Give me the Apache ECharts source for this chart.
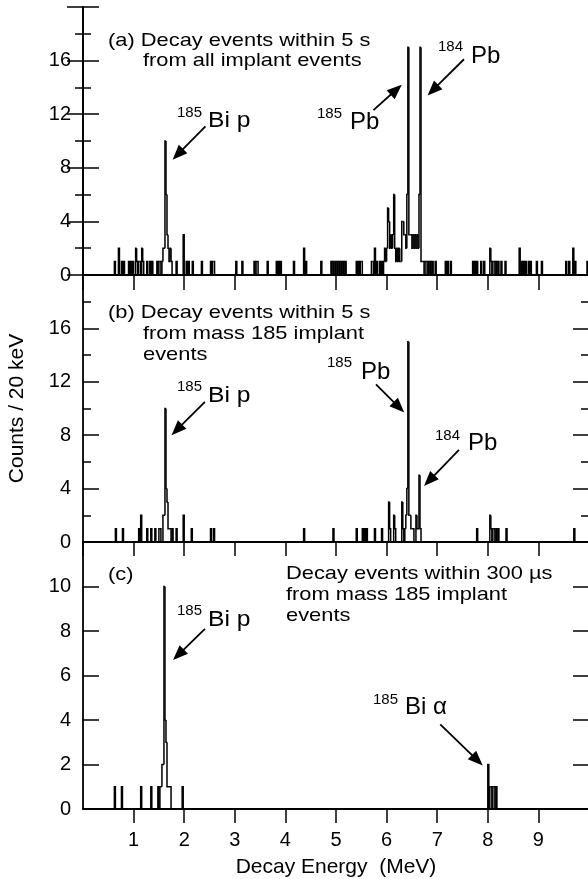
<!DOCTYPE html>
<html>
<head>
<meta charset="utf-8">
<script src="https://cdn.jsdelivr.net/npm/echarts@6/dist/echarts.min.js"></script>
<style>html,body{margin:0;padding:0;background:#fff}#c{width:588px;height:879px}</style>
</head>
<body>
<div id="c"></div>
<script>
// ---- data: nonzero 20 keV bins, [bin lower edge (MeV), counts] ----
const binsA = [
  [0.62,1],[0.70,2],[0.76,1],[0.80,1],[0.90,1],[0.94,1],[0.98,1],[1.04,2],[1.06,1],[1.10,1],
  [1.12,1],[1.16,2],[1.18,1],[1.26,1],[1.32,1],[1.36,1],[1.46,1],[1.50,1],[1.52,1],[1.56,1],
  [1.58,2],[1.60,2],[1.62,10],[1.64,6],[1.66,3],[1.68,2],[1.70,1],[1.72,2],[1.74,1],[1.84,1],
  [1.98,3],[2.04,1],[2.08,1],[2.16,1],[2.34,1],[2.52,1],[2.56,1],[2.58,1],[3.02,1],[3.14,1],
  [3.38,1],[3.42,1],[3.44,1],[3.64,1],[3.82,1],[3.86,1],[3.90,1],[4.16,1],[4.36,2],[4.40,1],
  [4.70,1],[4.90,1],[4.94,1],[4.98,1],[5.02,1],[5.06,1],[5.10,1],[5.14,1],[5.18,1],[5.40,1],
  [5.44,1],[5.48,1],[5.50,1],[5.70,1],[5.72,1],[5.76,2],[5.80,1],[5.86,1],[5.90,1],[5.94,1],
  [5.96,2],[5.98,1],[6.00,2],[6.02,5],[6.04,4],[6.06,2],[6.08,3],[6.10,2],[6.12,3],[6.14,6],
  [6.16,2],[6.18,1],[6.20,2],[6.22,1],[6.24,2],[6.26,1],[6.28,1],[6.30,4],[6.32,4],[6.34,3],
  [6.36,3],[6.38,2],[6.40,6],[6.42,17],[6.44,3],[6.46,3],[6.48,3],[6.50,2],[6.52,3],[6.54,2],
  [6.56,3],[6.58,2],[6.60,3],[6.62,2],[6.64,6],[6.66,17],[6.68,1],[6.70,1],[6.72,1],[6.76,1],
  [6.78,1],[6.82,1],[6.86,1],[6.90,1],[6.96,1],[7.16,1],[7.20,1],[7.26,1],[7.70,1],[7.74,1],
  [7.78,1],[7.86,1],[7.92,1],[8.04,2],[8.06,1],[8.10,1],[8.12,1],[8.16,1],[8.20,1],[8.26,1],
  [8.34,1],[8.62,2],[8.66,1],[8.70,1],[8.74,1],[8.80,1],[8.84,1],[8.96,1],[9.06,1],[9.54,1],
  [9.60,1],[9.68,2],[9.72,1],[9.96,1]
];
const binsB = [
  [0.64,1],[0.78,1],[1.10,1],[1.14,2],[1.26,1],[1.34,1],[1.42,1],[1.50,1],[1.52,1],[1.58,2],
  [1.60,2],[1.62,10],[1.64,4],[1.66,3],[1.68,1],[1.70,1],[1.72,1],[1.76,1],[1.84,1],[1.98,2],
  [2.14,1],[2.52,1],[2.58,1],[4.36,1],[4.94,1],[5.40,1],[5.52,1],[5.56,1],[5.60,1],[5.76,1],
  [5.90,1],[6.04,3],[6.06,1],[6.14,2],[6.16,1],[6.30,3],[6.32,1],[6.36,1],[6.38,2],[6.40,4],
  [6.42,15],[6.44,2],[6.46,2],[6.48,1],[6.50,1],[6.52,1],[6.58,2],[6.60,1],[6.62,1],[6.64,5],
  [6.66,1],[7.78,1],[8.04,2],[8.06,1],[8.10,1],[8.12,1],[8.16,1],[8.20,1],[8.36,1],[9.70,1]
];
const binsC = [
  [0.62,1],[0.76,1],[1.14,1],[1.34,1],[1.48,1],[1.52,1],[1.54,1],[1.56,2],[1.58,2],[1.60,10],
  [1.62,4],[1.64,3],[1.66,1],[1.68,1],[1.70,1],[1.72,1],[1.96,1],[8.00,2],[8.04,1],[8.06,1],
  [8.10,1],[8.12,1],[8.16,1]
];
const binWidth = 0.02;          // MeV (20 keV)
const energyRange = [0, 10];    // MeV
const yMaxAB = 20, yMaxC = 12;
const yLabelsAB = [0, 4, 8, 12, 16];
const yLabelsC = [0, 2, 4, 6, 8, 10];
const xLabels = [1, 2, 3, 4, 5, 6, 7, 8, 9];

// annotation arrows: [fromE, fromCounts, toE, toCounts]
const arrowsA = [[2.42, 11.1, 1.77, 8.6], [5.74, 12.3, 6.30, 14.2], [7.53, 16.1, 6.81, 13.4]];
const arrowsB = [[2.41, 10.5, 1.75, 8.0], [5.79, 11.8, 6.35, 9.7], [7.43, 6.9, 6.74, 4.2]];
const arrowsC = [[2.41, 8.1, 1.78, 6.7], [7.06, 3.8, 7.90, 1.96]];

// ---- histogram items: [edge, count, prevCount, nextCount] ----
function histItems(bins) {
  const m = new Map(bins.map(([e, c]) => [Math.round(e / binWidth), c]));
  return bins.map(([e, c]) => {
    const k = Math.round(e / binWidth);
    return [e, c, m.get(k - 1) || 0, m.get(k + 1) || 0];
  });
}

const FONT = "'Liberation Sans', Arial, Helvetica, sans-serif";
const black = '#000';
const AXW = 1.8;

const gridsPos = [
  { left: 83, right: -1, top: 7, height: 268 },
  { left: 83, right: -1, top: 275, height: 267 },
  { left: 83, right: -1, top: 542, height: 267 }
];

function xAxisFor(i, opts) {
  return Object.assign({
    type: 'value', gridIndex: i, min: energyRange[0], max: energyRange[1], interval: 1,
    position: 'bottom',
    axisLine: { show: true, lineStyle: { color: black, width: AXW } },
    axisTick: { show: true, inside: false, length: 14, lineStyle: { color: black, width: 1.5 } },
    axisLabel: { show: false },
    splitLine: { show: false }
  }, opts || {});
}
const xAxes = [
  xAxisFor(0), xAxisFor(1),
  xAxisFor(2, {
    axisLabel: {
      show: true, color: black, fontSize: 20, fontFamily: FONT, margin: 21,
      showMinLabel: false, showMaxLabel: false,
      formatter: v => (xLabels.indexOf(v) >= 0 ? String(v) : '')
    },
    name: 'Decay Energy  (MeV)', nameLocation: 'middle', nameGap: 48,
    nameTextStyle: { color: black, fontSize: 21, fontFamily: FONT }
  }),
  xAxisFor(0, { position: 'top', axisTick: { show: true, inside: true, length: 15, lineStyle: { color: black, width: 1.5 } } })
];

function yAxisFor(i, pos, max, interval, labels, minor, extra) {
  return Object.assign({
    type: 'value', gridIndex: i, position: pos, min: 0, max: max, interval: interval,
    axisLine: { show: true, lineStyle: { color: black, width: AXW } },
    axisTick: { show: true, inside: true, length: 16, lineStyle: { color: black, width: 1.5 } },
    minorTick: { show: minor, splitNumber: 2, length: 8, lineStyle: { color: black, width: 1.5 } },
    axisLabel: pos === 'left' ? {
      show: true, color: black, fontSize: 20, fontFamily: FONT, margin: 12, showMaxLabel: false,
      formatter: v => (labels.indexOf(v) >= 0 ? String(v) : '')
    } : { show: false },
    splitLine: { show: false }, minorSplitLine: { show: false }
  }, extra || {});
}
const yAxes = [
  yAxisFor(0, 'left', yMaxAB, 4, yLabelsAB, true),
  yAxisFor(1, 'left', yMaxAB, 4, yLabelsAB, true, {
    name: 'Counts / 20 keV', nameLocation: 'middle', nameRotate: 90, nameGap: 55,
    nameTextStyle: { color: black, fontSize: 21, fontFamily: FONT }
  }),
  yAxisFor(2, 'left', yMaxC, 2, yLabelsC, false),
  yAxisFor(0, 'right', yMaxAB, 4, yLabelsAB, true),
  yAxisFor(1, 'right', yMaxAB, 4, yLabelsAB, true),
  yAxisFor(2, 'right', yMaxC, 2, yLabelsC, false)
];

function histSeries(i, bins) {
  return {
    type: 'custom', xAxisIndex: i, yAxisIndex: i, silent: true, animation: false,
    dimensions: ['e', 'c', 'p', 'n'], encode: { x: 0, y: 1 },
    data: histItems(bins),
    renderItem: (params, api) => {
      const e = api.value(0), c = api.value(1), p = api.value(2), n = api.value(3);
      const L = api.coord([e, 0])[0], R = api.coord([e + binWidth, 0])[0];
      const y = v => api.coord([e, v])[1];
      const pts = [[L, y(p)], [L, y(c)], [R, y(c)]];
      if (n === 0) pts.push([R, y(0)]);
      return { type: 'polyline', shape: { points: pts },
               style: { stroke: black, fill: null, lineWidth: 1.5 } };
    }
  };
}
function arrowSeries(i, arrows) {
  return {
    type: 'custom', xAxisIndex: i, yAxisIndex: i, silent: true, animation: false,
    dimensions: ['x1', 'y1', 'x2', 'y2'], encode: { x: [0, 2], y: [1, 3] },
    data: arrows,
    renderItem: (params, api) => {
      const a = api.coord([api.value(0), api.value(1)]);
      const b = api.coord([api.value(2), api.value(3)]);
      const dx = b[0] - a[0], dy = b[1] - a[1], len = Math.hypot(dx, dy);
      const ux = dx / len, uy = dy / len, hl = 15, hw = 6;
      const base = [b[0] - ux * hl, b[1] - uy * hl];
      return { type: 'group', children: [
        { type: 'line', shape: { x1: a[0], y1: a[1], x2: base[0] + ux * 3, y2: base[1] + uy * 3 },
          style: { stroke: black, lineWidth: 1.8 } },
        { type: 'polygon', shape: { points: [b, [base[0] - uy * hw, base[1] + ux * hw], [base[0] + uy * hw, base[1] - ux * hw]] },
          style: { fill: black } }
      ] };
    }
  };
}

// ---- annotation texts ----
function txt(x, y, text, size, sx) {
  return {
    type: 'text', x: x, y: y, scaleX: sx || 1, silent: true,
    style: { text: text, font: size + 'px ' + FONT, fill: black,
             align: 'left', verticalAlign: 'middle', textAlign: 'left', textVerticalAlign: 'middle' }
  };
}
const DS = 19, DX = 1.15;   // description text size / horizontal scale
const graphics = [
  // panel (a)
  txt(108, 41, '(a) Decay events within 5 s', DS, DX),
  txt(143, 61, 'from all implant events', DS, DX),
  txt(177, 112.5, '185', 15), txt(208, 121, 'Bi p', 22, 1.12),
  txt(317, 114, '185', 15), txt(350, 122, 'Pb', 24),
  txt(438, 47, '184', 15), txt(471, 56, 'Pb', 24),
  // panel (b)
  txt(108, 313, '(b) Decay events within 5 s', DS, DX),
  txt(143, 334, 'from mass 185 implant', DS, DX),
  txt(143, 355, 'events', DS, DX),
  txt(177, 387, '185', 15), txt(208, 395.5, 'Bi p', 22, 1.12),
  txt(327, 363, '185', 15), txt(361, 372, 'Pb', 24),
  txt(435, 436, '184', 15), txt(468, 443.5, 'Pb', 24),
  // panel (c)
  txt(108, 575, '(c)', DS, DX),
  txt(286, 573.5, 'Decay events within 300 \u00b5s', DS, DX),
  txt(286, 595, 'from mass 185 implant', DS, DX),
  txt(286, 615.5, 'events', DS, DX),
  txt(177, 611, '185', 15), txt(208, 620, 'Bi p', 22, 1.12),
  txt(373, 700, '185', 15), txt(405, 707.5, 'Bi \u03b1', 24)
];

const chart = echarts.init(document.getElementById('c'), null, { renderer: 'canvas' });
chart.setOption({
  animation: false,
  backgroundColor: '#fff',
  grid: gridsPos.map(g => Object.assign({ containLabel: false, outerBoundsMode: 'none' }, g)),
  xAxis: xAxes,
  yAxis: yAxes,
  series: [
    histSeries(0, binsA), histSeries(1, binsB), histSeries(2, binsC),
    arrowSeries(0, arrowsA), arrowSeries(1, arrowsB), arrowSeries(2, arrowsC)
  ],
  graphic: graphics
});
</script>
</body>
</html>
